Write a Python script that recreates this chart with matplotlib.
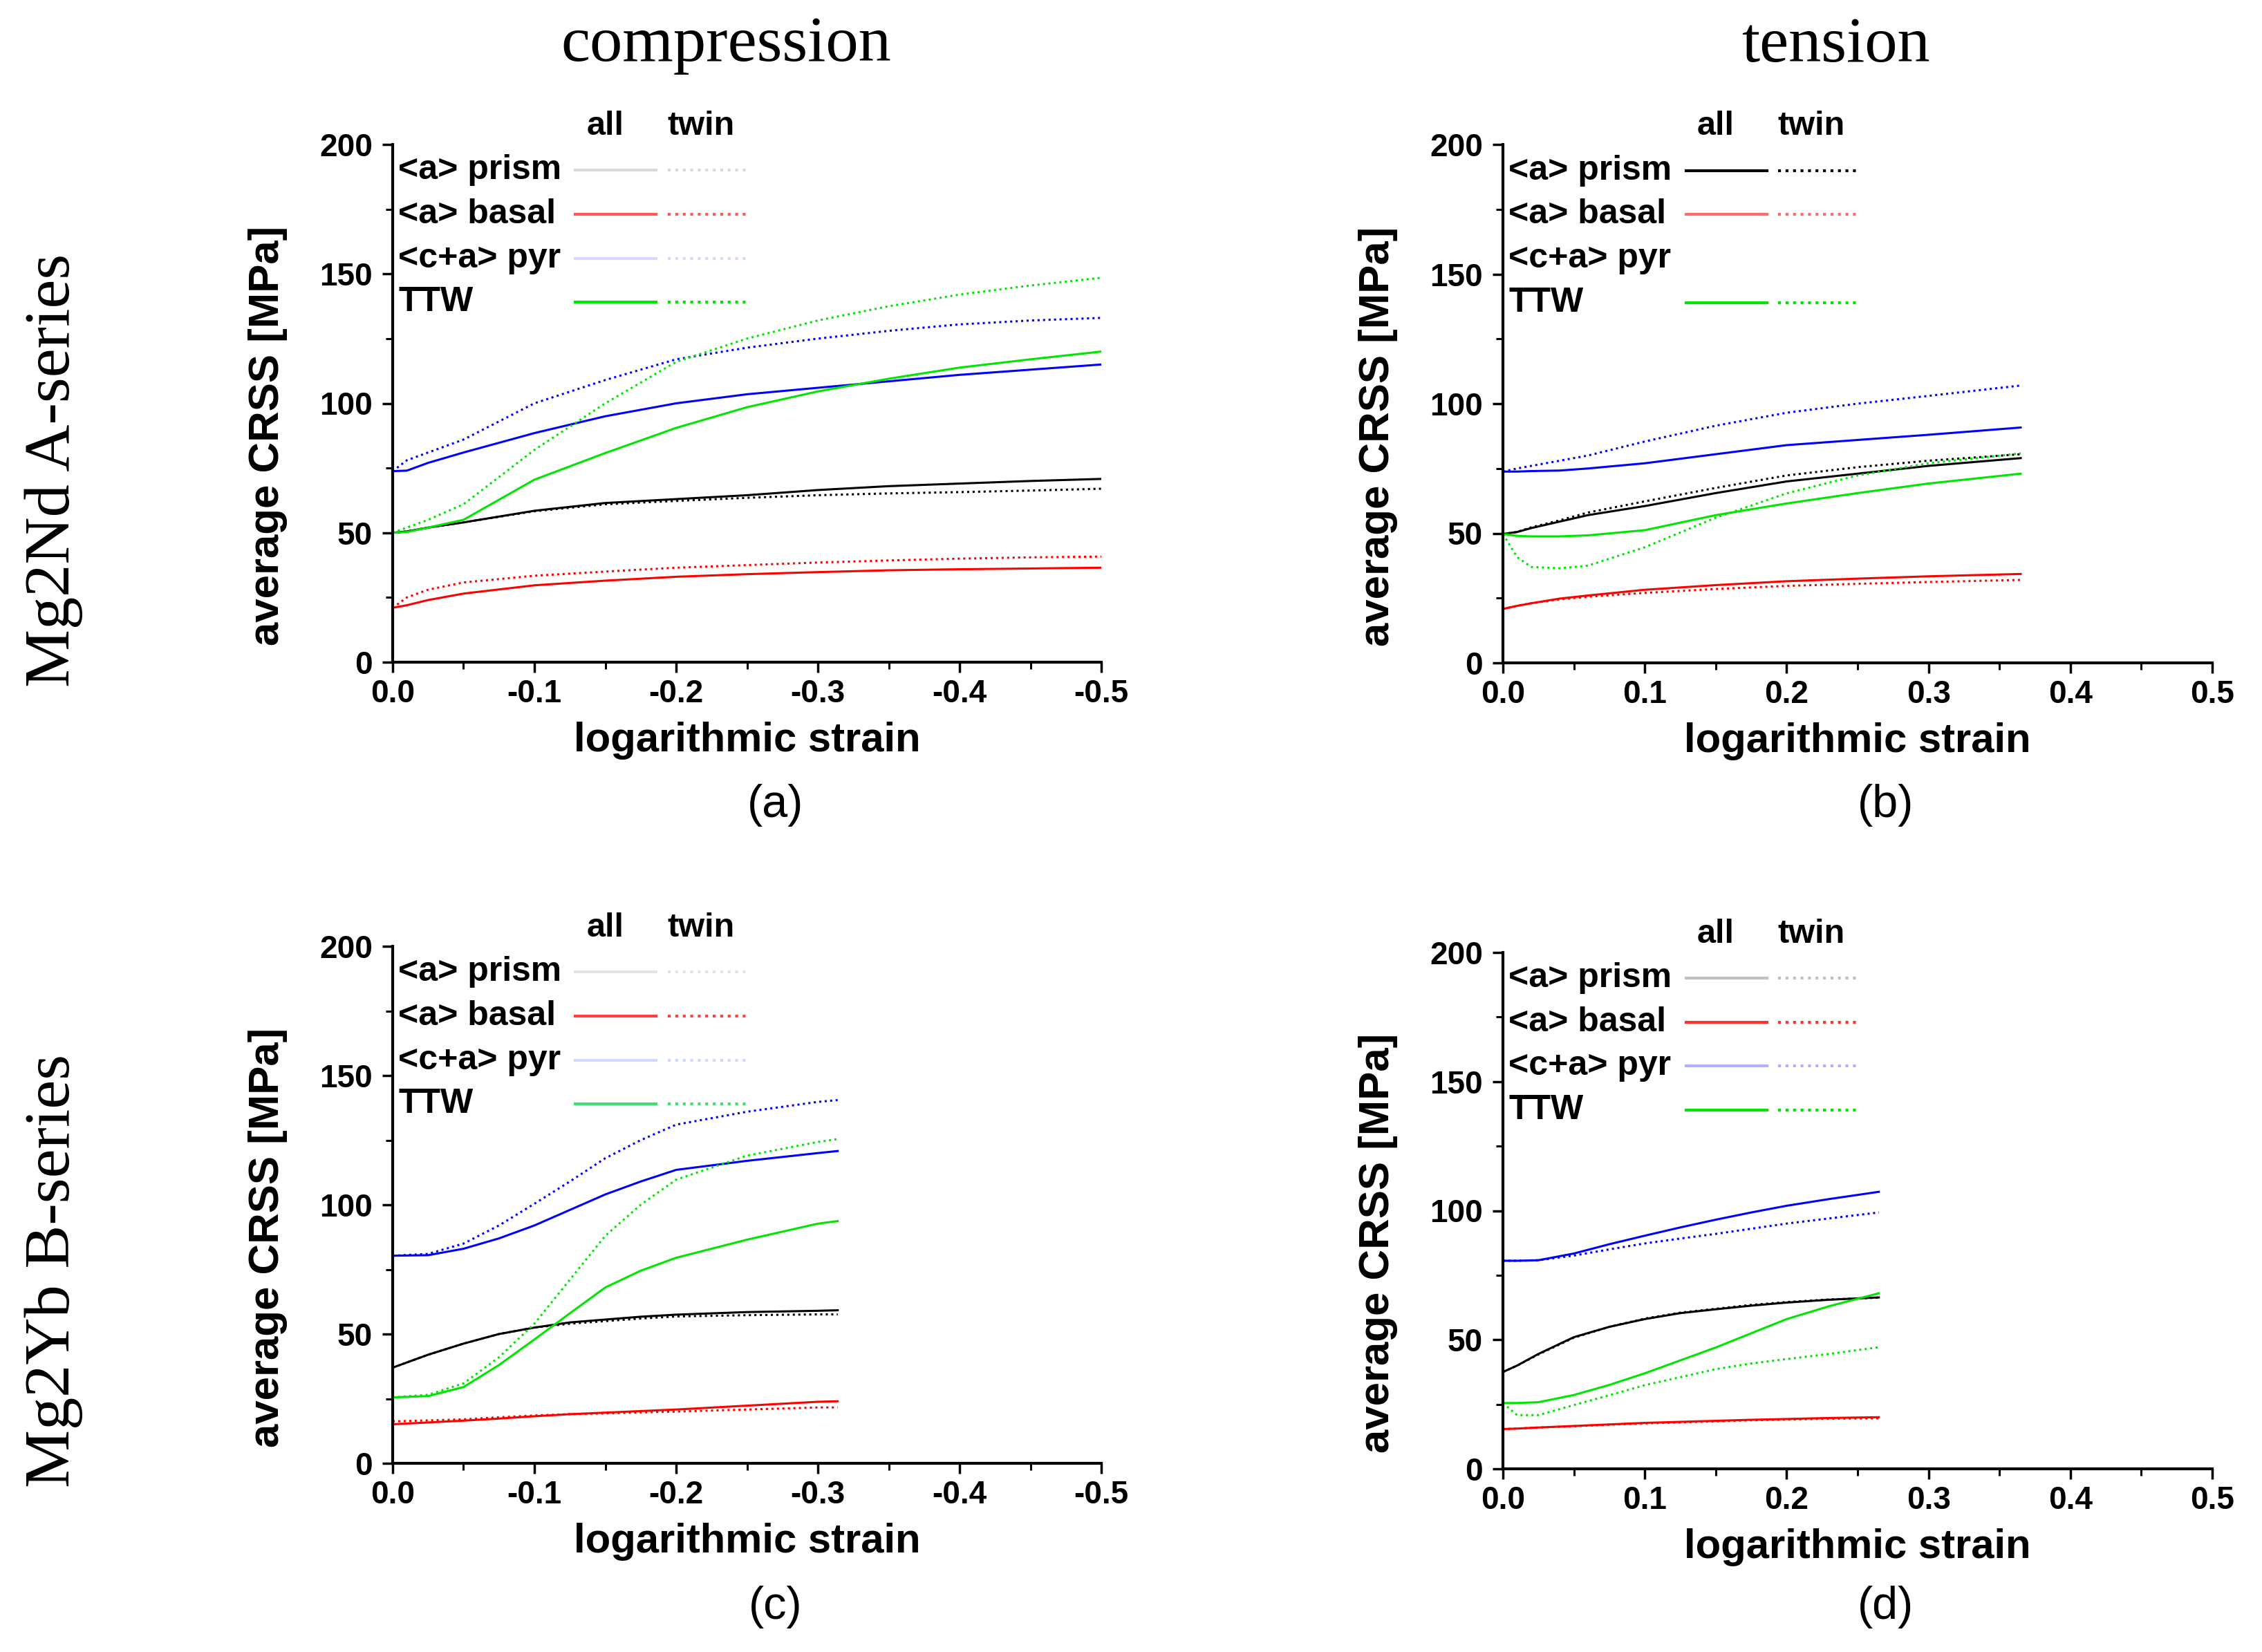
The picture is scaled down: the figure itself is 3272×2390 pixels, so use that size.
import numpy as np
import matplotlib.pyplot as plt

plt.rcParams['font.family'] = ['Liberation Sans', 'DejaVu Sans']

# ---- data (x = logarithmic strain, y = average CRSS [MPa]) ----
# (a) Mg2Nd, compression
a_x = [0, -0.01, -0.025, -0.05, -0.1, -0.15, -0.2, -0.25, -0.3, -0.35, -0.4, -0.45, -0.5]
a_prism_all = [50, 50.5, 52, 54, 58.5, 61.5, 63, 64.5, 66.5, 68, 69, 70, 70.8]
a_prism_twin = [50, 50.5, 52, 54, 58.3, 61, 62.3, 63.5, 64.5, 65.2, 65.7, 66.3, 67]
a_basal_all = [21, 22, 24, 26.5, 29.7, 31.5, 33, 34, 34.8, 35.5, 35.9, 36.2, 36.5]
a_basal_twin = [21, 25, 28, 30.8, 33.4, 35, 36.5, 37.5, 38.5, 39.3, 40, 40.5, 40.8]
a_pyr_all = [73.8, 74, 77, 81, 88.5, 95, 100, 103.5, 106, 108.5, 111, 113, 115]
a_pyr_twin = [73.8, 78, 81, 86, 100, 109, 117, 121.5, 125, 128, 130.5, 132, 133]
a_ttw_all = [50, 50.3, 52, 55, 70.5, 80.8, 90.5, 98.5, 104.6, 109.5, 113.8, 117, 120]
a_ttw_twin = [50, 52, 55, 61, 82, 100, 116, 125, 132, 137.5, 142, 145.5, 148.5]

# (b) Mg2Nd, tension
b_x = [0, 0.01, 0.02, 0.04, 0.06, 0.1, 0.15, 0.2, 0.25, 0.3, 0.365]
b_prism_all = [49.7, 50.5, 52, 54.5, 57, 60.5, 65.5, 70, 73, 76, 79]
b_prism_twin = [49.7, 50.5, 52.3, 55, 58, 62.3, 67.5, 72.3, 75.5, 78, 80.5]
b_basal_all = [20.8, 22, 23, 24.8, 26, 28.2, 30, 31.5, 32.5, 33.4, 34.3]
b_basal_twin = [20.8, 22, 23, 24.5, 25.5, 27, 28.5, 29.7, 30.5, 31.2, 32]
b_pyr_all = [73.8, 73.8, 74, 74.2, 75, 77, 80.5, 84, 86, 88, 90.8]
b_pyr_twin = [73.8, 75, 76, 78, 80, 85.4, 91.5, 96.5, 100, 103, 107]
b_ttw_all = [49.7, 49, 48.8, 48.8, 49.2, 51.2, 57, 61.5, 65.5, 69.2, 73]
b_ttw_twin = [49.7, 40.8, 37, 36.5, 37.5, 44.6, 56, 65.4, 72.3, 77, 80.8]

# (c) Mg2Yb, compression
c_x = [0, -0.025, -0.05, -0.075, -0.1, -0.125, -0.15, -0.175, -0.2, -0.25, -0.3, -0.314]
c_prism_all = [37, 42, 46.3, 50, 52.5, 54.5, 55.6, 56.7, 57.5, 58.5, 59, 59.2]
c_prism_twin = [37, 42, 46.3, 50, 52.5, 54, 55, 56, 56.8, 57.3, 57.6, 57.6]
c_basal_all = [15.1, 15.8, 16.5, 17.3, 18.2, 19, 19.6, 20.2, 20.8, 22.3, 23.8, 24]
c_basal_twin = [16.2, 16.6, 17, 17.8, 18.5, 19, 19.3, 19.7, 20, 20.8, 21.6, 21.6]
c_pyr_all = [80.3, 80.5, 83, 87, 92, 98, 104, 109, 113.5, 117, 120, 120.8]
c_pyr_twin = [80.3, 81, 85, 92, 100.4, 109, 118, 125, 131, 136, 139.8, 140.5]
c_ttw_all = [25.5, 26, 29.5, 38, 47.9, 58, 68, 74.5, 79.5, 86.5, 92.7, 93.7]
c_ttw_twin = [25.5, 26.5, 30.9, 41, 54, 71, 88, 100, 109.7, 119, 124.3, 125.4]

# (d) Mg2Yb, tension
d_x = [0, 0.01, 0.025, 0.05, 0.075, 0.1, 0.125, 0.15, 0.175, 0.2, 0.23, 0.265]
d_prism_all = [37.5, 40, 44.5, 51, 55, 58, 60.3, 61.8, 63.2, 64.4, 65.5, 66.4]
d_prism_twin = [37.5, 40, 44.3, 50.8, 55, 58.2, 60.5, 62, 63.5, 64.6, 65.6, 66.3]
d_basal_all = [15.4, 15.6, 16, 16.6, 17.2, 17.8, 18.2, 18.6, 19, 19.3, 19.7, 20]
d_basal_twin = [15.4, 15.6, 16, 16.5, 17.1, 17.6, 18, 18.4, 18.8, 19.1, 19.4, 19.6]
d_pyr_all = [80.6, 80.6, 80.8, 83.4, 87, 90.3, 93.5, 96.5, 99.3, 101.9, 104.5, 107.3]
d_pyr_twin = [80.6, 80.6, 80.8, 82.6, 85, 87.3, 89.2, 91, 93, 95, 97, 99.3]
d_ttw_all = [25.5, 25.5, 25.8, 28.6, 32.5, 37, 42, 47, 52.5, 58, 63, 68]
d_ttw_twin = [25.5, 20.8, 20.8, 24.7, 28.5, 32.4, 35.5, 38.6, 40.8, 42.5, 44.5, 47.1]

systems = ['<a> prism', '<a> basal', '<c+a> pyr', 'TTW']
line_colors = ['black', '#ff0000', '#0000ff', '#00e600']
col_titles = ['compression', 'tension']
row_titles = ['Mg2Nd A-series', 'Mg2Yb B-series']
panel_tags = ['(a)', '(b)', '(c)', '(d)']

# legend swatches in the original are washed out in some panels
legend_colors = [
    ['#d9d9d9', '#ff5a5a', '#d8d8ff', '#00e600'],
    ['black', '#ff6a6a', 'white', '#00e600'],
    ['#e3e3e3', '#ff4040', '#d0d8ff', '#40e070'],
    ['#c0c0c0', '#ff3030', '#b0b0ff', '#00e600'],
]

panels = [
    (a_x, [a_prism_all, a_basal_all, a_pyr_all, a_ttw_all],
     [a_prism_twin, a_basal_twin, a_pyr_twin, a_ttw_twin]),
    (b_x, [b_prism_all, b_basal_all, b_pyr_all, b_ttw_all],
     [b_prism_twin, b_basal_twin, b_pyr_twin, b_ttw_twin]),
    (c_x, [c_prism_all, c_basal_all, c_pyr_all, c_ttw_all],
     [c_prism_twin, c_basal_twin, c_pyr_twin, c_ttw_twin]),
    (d_x, [d_prism_all, d_basal_all, d_pyr_all, d_ttw_all],
     [d_prism_twin, d_basal_twin, d_pyr_twin, d_ttw_twin]),
]

# axes boxes in pixels of the 3273x2390 picture: left, top, right, bottom
W, H = 3273, 2390
boxes = [(568, 209, 1593, 958), (2174, 209, 3200, 959),
         (568, 1369, 1593, 2117), (2174, 1378, 3200, 2125)]

fig = plt.figure(figsize=(W / 100, H / 100), dpi=100)

for i, (x, all_vals, twin_vals) in enumerate(panels):
    l, t, r, b = boxes[i]
    ax = fig.add_axes([l / W, 1 - b / H, (r - l) / W, (b - t) / H])
    compression = (i % 2 == 0)

    for k in range(4):
        ax.plot(x, all_vals[k], color=line_colors[k], lw=2.2, ls='-')
        ax.plot(x, twin_vals[k], color=line_colors[k], lw=2.2, ls=(0, (1, 1.6)))

    if compression:
        ax.set_xlim(0, -0.5)
        ax.set_xticks([0, -0.1, -0.2, -0.3, -0.4, -0.5])
        ax.set_xticks(np.arange(-0.05, -0.5, -0.1), minor=True)
    else:
        ax.set_xlim(0, 0.5)
        ax.set_xticks([0, 0.1, 0.2, 0.3, 0.4, 0.5])
        ax.set_xticks(np.arange(0.05, 0.5, 0.1), minor=True)
    ax.xaxis.set_major_formatter(plt.FormatStrFormatter('%.1f'))
    ax.set_ylim(0, 200)
    ax.set_yticks([0, 50, 100, 150, 200])
    ax.set_yticks([25, 75, 125, 175], minor=True)

    for s in ['top', 'right']:
        ax.spines[s].set_visible(False)
    for s in ['left', 'bottom']:
        ax.spines[s].set_linewidth(3)
    ax.tick_params(which='major', direction='out', length=11, width=2.5,
                   labelsize=33)
    ax.tick_params(axis='x', which='major', pad=6)
    ax.tick_params(axis='y', which='major', pad=10)
    ax.tick_params(which='minor', direction='out', length=7, width=2.2)
    for lab in ax.get_xticklabels() + ax.get_yticklabels():
        lab.set_fontweight('bold')

    ax.set_xlabel('logarithmic strain', fontsize=43, fontweight='bold', labelpad=13)
    ax.set_ylabel('average CRSS [MPa]', fontsize=44.5, fontweight='bold', labelpad=33)
    ax.yaxis.label.set_y(0.437)

    # hand made legend: one row per system, "all" solid, "twin" dotted
    ax.text(0.30, 1.035, 'all', transform=ax.transAxes, ha='center', va='center',
            fontsize=35, fontweight='bold')
    ax.text(0.435, 1.035, 'twin', transform=ax.transAxes, ha='center', va='center',
            fontsize=35, fontweight='bold')
    rows = [0.95, 0.865, 0.78, 0.695]
    for k, name in enumerate(systems):
        yy = rows[k]
        ax.text(0.008, yy, name, transform=ax.transAxes, ha='left', va='center',
                fontsize=36, fontweight='bold')
        c = legend_colors[i][k]
        ax.plot([0.258, 0.372], [yy, yy], transform=ax.transAxes, color=c,
                lw=3, ls='-', clip_on=False)
        ax.plot([0.388, 0.5], [yy, yy], transform=ax.transAxes, color=c,
                lw=3, ls=(0, (1, 1.6)), clip_on=False)

    cx = (l + r) / 2
    tag_y = 1165 if i < 2 else 2325
    fig.text(cx / W + 0.0125, 1 - tag_y / H, panel_tags[i], ha='center', va='center',
             fontsize=48)

title_x = [1050, 2655]
for j, title in enumerate(col_titles):
    fig.text(title_x[j] / W, 1 - 66 / H, title, ha='center', va='center',
             fontsize=68, family='Liberation Serif')

for j, title in enumerate(row_titles):
    yc = [680, 1839][j]
    fig.text(78 / W, 1 - yc / H, title, ha='center', va='center', rotation=90,
             fontsize=68, family='Liberation Serif')

fig.savefig('out.png', dpi=100, facecolor='white')
